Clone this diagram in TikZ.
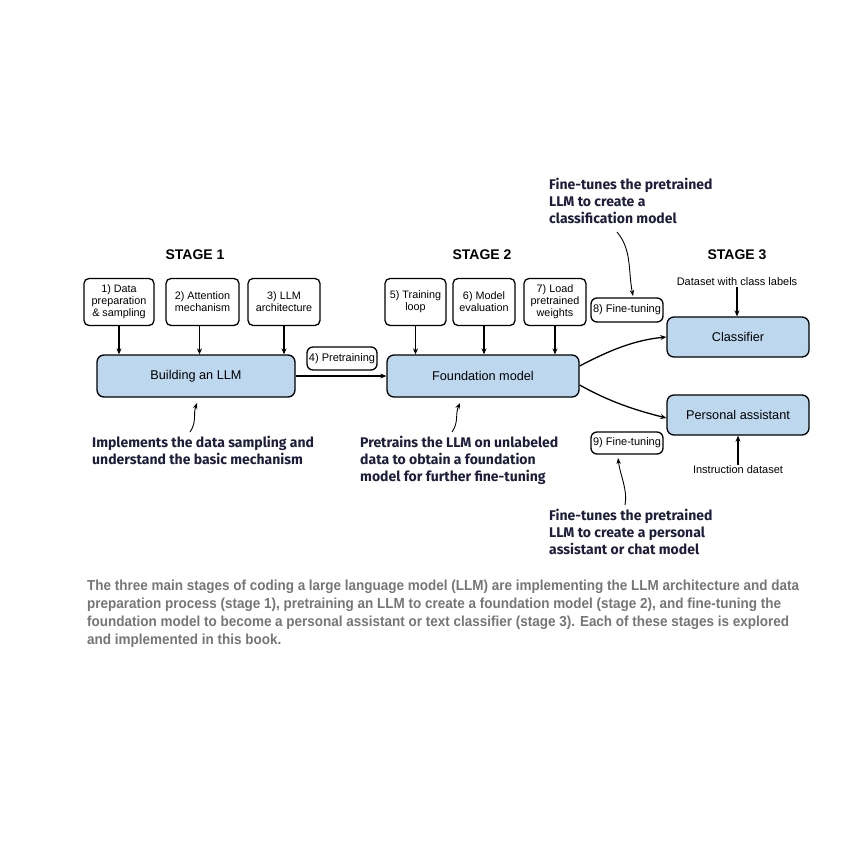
\documentclass[tikz,border=0pt]{standalone}
\usepackage{fontspec}
\setmainfont{Liberation Sans}
\newfontfamily\annfont{Fira Sans}
\newfontfamily\capfont[FakeStretch=0.93]{Liberation Sans}
\usetikzlibrary{arrows.meta}
\definecolor{boxblue}{HTML}{BDD7EE}
\definecolor{anncol}{HTML}{1E1E3C}
\definecolor{capgrey}{HTML}{767676}
\tikzset{
  smallbox/.style={draw=black, line width=1.3pt, rounded corners=5pt, fill=white, align=center, inner sep=1pt, font=\fontsize{10.8}{12}\selectfont},
  tagbox/.style={draw=black, line width=1.3pt, rounded corners=6pt, fill=white, inner sep=0.5pt, font=\fontsize{11}{12}\selectfont},
  mainbox/.style={draw=black, line width=1.3pt, rounded corners=7pt, fill=boxblue, align=center, font=\fontsize{12.7}{14}\selectfont},
  stagelbl/.style={font=\fontsize{14}{16}\selectfont\bfseries},
  arr/.style={line width=1.3pt, -{Stealth[length=6pt,width=5pt]}},
  annarr/.style={line width=0.9pt, -{Stealth[length=6pt,width=4.5pt]}},
  anntext/.style={anchor=north west, align=left, text=anncol, font=\annfont\bfseries\fontsize{14}{17}\selectfont, inner sep=0pt},
  smalltxt/.style={font=\fontsize{11}{12}\selectfont, inner sep=1pt}
}
\begin{document}
\begin{tikzpicture}[x=1pt,y=-1pt]
\useasboundingbox[fill=white] (0,0) rectangle (859,866);
% stage labels
\node[stagelbl] (s1) at (195,255) {STAGE 1};
\node[stagelbl] (s2) at (482,255) {STAGE 2};
\node[stagelbl] (s3) at (737,255) {STAGE 3};
% stage 1
\node[smallbox, minimum width=70pt, minimum height=47pt] (b1) at (119,302) {1) Data\\preparation\\\& sampling};
\node[smallbox, minimum width=73pt, minimum height=47pt] (b2) at (202.5,302) {2) Attention\\mechanism};
\node[smallbox, minimum width=72pt, minimum height=47pt] (b3) at (284,302) {3) LLM\\architecture};
\node[mainbox, minimum width=198pt, minimum height=42pt] (build) at (196,376) {Building an LLM};
\node[tagbox, minimum width=70pt, minimum height=23pt] (pt) at (342,358.5) {4) Pretraining};
% stage 2
\node[smallbox, minimum width=61pt, minimum height=47pt] (b5) at (415.5,302) {5) Training\\loop};
\node[smallbox, minimum width=62pt, minimum height=47pt] (b6) at (484,302) {6) Model\\evaluation};
\node[smallbox, minimum width=62pt, minimum height=47pt] (b7) at (555,302) {7) Load\\pretrained\\weights};
\node[mainbox, minimum width=192pt, minimum height=42pt] (found) at (483,376) {Foundation model};
\node[tagbox, minimum width=72pt, minimum height=24pt] (ft8) at (627,310) {8) Fine-tuning};
\node[tagbox, minimum width=72pt, minimum height=22pt] (ft9) at (627,443) {9) Fine-tuning};
% stage 3
\node[mainbox, minimum width=142pt, minimum height=40pt] (cls) at (738,337) {Classifier};
\node[mainbox, minimum width=142pt, minimum height=40pt] (pa) at (738,415) {Personal assistant};
\node[smalltxt] (dcl) at (737,282) {Dataset with class labels};
\node[smalltxt] (ins) at (738,470) {Instruction dataset};
% arrows
\draw[arr] (b1.south) -- (b1.south |- build.north);
\draw[arr] ([xshift=-3pt]b2.south) -- ([xshift=-3pt]b2.south |- build.north);
\draw[arr] (b3.south) -- (b3.south |- build.north);
\draw[arr] (b5.south) -- (b5.south |- found.north);
\draw[arr] (b6.south) -- (b6.south |- found.north);
\draw[arr] (b7.south) -- (b7.south |- found.north);
\draw[arr] (build.east) -- (found.west);
\draw[arr] (dcl.south) -- (dcl.south |- cls.north);
\draw[arr] (ins.north) -- (ins.north |- pa.south);
\draw[arr] ([yshift=10pt]found.east) .. controls (610,350) and (635,340) .. (cls.west);
\draw[arr] ([yshift=-9pt]found.east) .. controls (610,402) and (635,410) .. ([yshift=-3pt]pa.west);
% annotations
\node[anntext] (a1) at (92,436) {Implements the data sampling and\\understand the basic mechanism};
\node[anntext] (a2) at (360,436) {Pretrains the LLM on unlabeled\\data to obtain a foundation\\model for further fine-tuning};
\node[anntext] (a3) at (549,178) {Fine-tunes the pretrained\\LLM to create a\\classification model};
\node[anntext] (a4) at (549,509) {Fine-tunes the pretrained\\LLM to create a personal\\assistant or chat model};
\coordinate (c1) at (190,432);
\coordinate (c1e) at (197,403);
\coordinate (c2) at (452,432);
\coordinate (c2e) at (460,403);
\coordinate (c3) at (617,232);
\coordinate (c3e) at (633,296);
\coordinate (c4) at (625,505);
\coordinate (c4e) at (618,458);
\draw[annarr] (c1) .. controls (197,422) and (193,414) .. (c1e);
\draw[annarr] (c2) .. controls (459,422) and (455,414) .. (c2e);
\draw[annarr] (c3) .. controls (632,250) and (628,270) .. (c3e);
\draw[annarr] (c4) .. controls (628,490) and (620,475) .. (c4e);
% caption
\node[anchor=north west, align=left, text=capgrey, inner sep=0pt, font=\capfont\bfseries\fontsize{14.5}{18}\selectfont] (cap) at (87,580) {The three main stages of coding a large language model (LLM) are implementing the LLM architecture and data\\preparation process (stage 1), pretraining an LLM to create a foundation model (stage 2), and fine-tuning the\\foundation model to become a personal assistant or text classifier (stage 3). Each of these stages is explored\\and implemented in this book.};
\end{tikzpicture}
\end{document}
